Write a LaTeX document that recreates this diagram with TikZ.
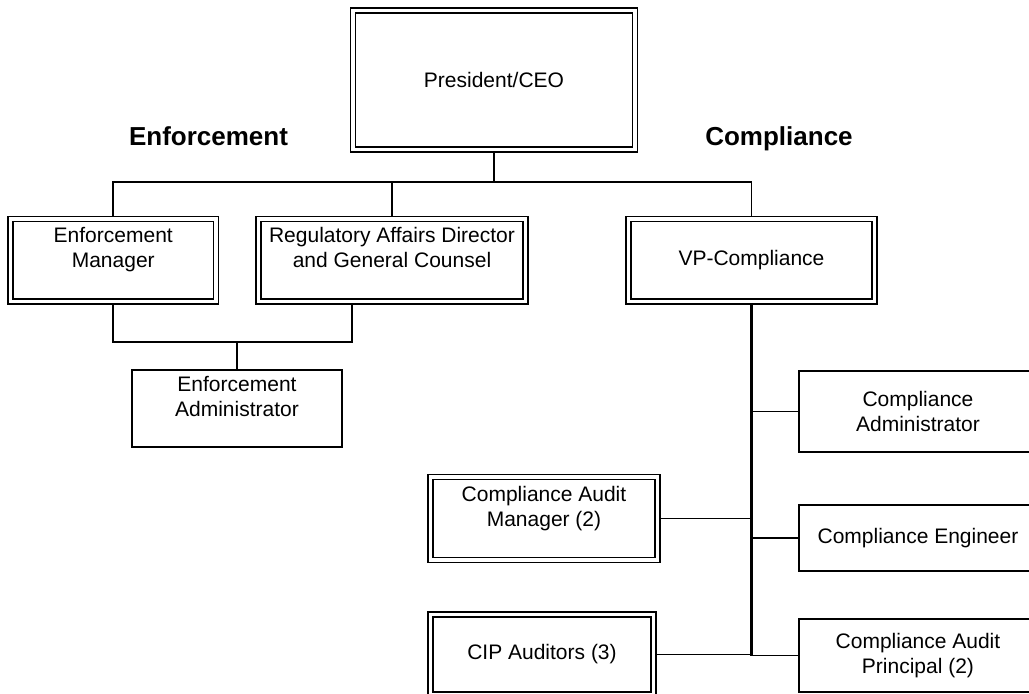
\documentclass[tikz,border=0pt]{standalone}
\usepackage{fontspec}
\setmainfont{Liberation Sans}
\usetikzlibrary{positioning}

\begin{document}
\begin{tikzpicture}[x=1pt,y=-1pt,line width=1.6pt,
  every node/.style={font=\fontsize{21}{25}\selectfont,align=center,inner sep=0pt},
  dbl box/.style={draw,double,double distance=3.4pt,outer sep=3.3pt},
  plain box/.style={draw,outer sep=0.8pt},
  head/.style={font=\fontsize{26}{30}\selectfont\bfseries,anchor=base},
  spine/.style={line width=2.3pt}]
  \clip (0,0) rectangle (1029,694);
  \node[dbl box,minimum width=282,minimum height=139]   (ceo)   at (494,79.7)    {President/CEO};
  \node[head]                                           (enf)   at (208.5,145)   {Enforcement};
  \node[head]                                           (comp)  at (779,145)     {Compliance};
  \node[dbl box,minimum width=205.5,minimum height=82.5] (em)   at (113.25,260.25) {Enforcement\\Manager\\~};
  \node[dbl box,minimum width=267,minimum height=82.5]  (reg)   at (392,260.25)  {Regulatory Affairs Director\\and General Counsel\\~};
  \node[dbl box,minimum width=246,minimum height=82.5]  (vp)    at (751.5,260.25) {VP-Compliance};
  \node[plain box,minimum width=210,minimum height=77]  (ea)    at (237,408.5)   {Enforcement\\Administrator\\~};
  \node[plain box,minimum width=238,minimum height=81]  (cadm)  at (918,411.5)   {Compliance\\Administrator};
  \node[dbl box,minimum width=227,minimum height=83]    (cam)   at (544,518.5)   {Compliance Audit\\Manager (2)\\~};
  \node[plain box,minimum width=238,minimum height=66]  (ceng)  at (918,538)     {Compliance Engineer};
  \node[dbl box,minimum width=223.5,minimum height=80]  (cip)   at (542,654.5)   {CIP Auditors (3)};
  \node[plain box,minimum width=238,minimum height=73]  (cap)   at (918,655.5)   {Compliance Audit\\Principal (2)};
  \coordinate (bus)  at (494,182);
  \coordinate (ebus) at (237,342);
  % top level
  \draw (ceo.south) -- (bus);
  \draw (em.north) |- (bus) -| (vp.north);
  \draw (reg.north) -- (reg.north |- bus);
  % enforcement side
  \draw (em.south) |- (ebus) -| ([xshift=-40pt]reg.south);
  \draw (ebus) -- (ea.north);
  % compliance side
  \draw[spine] (vp.south) -- (vp.south |- cap.west);
  \draw (cadm.west) -- (cadm.west -| vp.south);
  \draw (cam.east)  -- (cam.east -| vp.south);
  \draw (ceng.west) -- (ceng.west -| vp.south);
  \draw (cip.east)  -- (cip.east -| vp.south);
  \draw (cap.west)  -- (cap.west -| vp.south);
\end{tikzpicture}
\end{document}
